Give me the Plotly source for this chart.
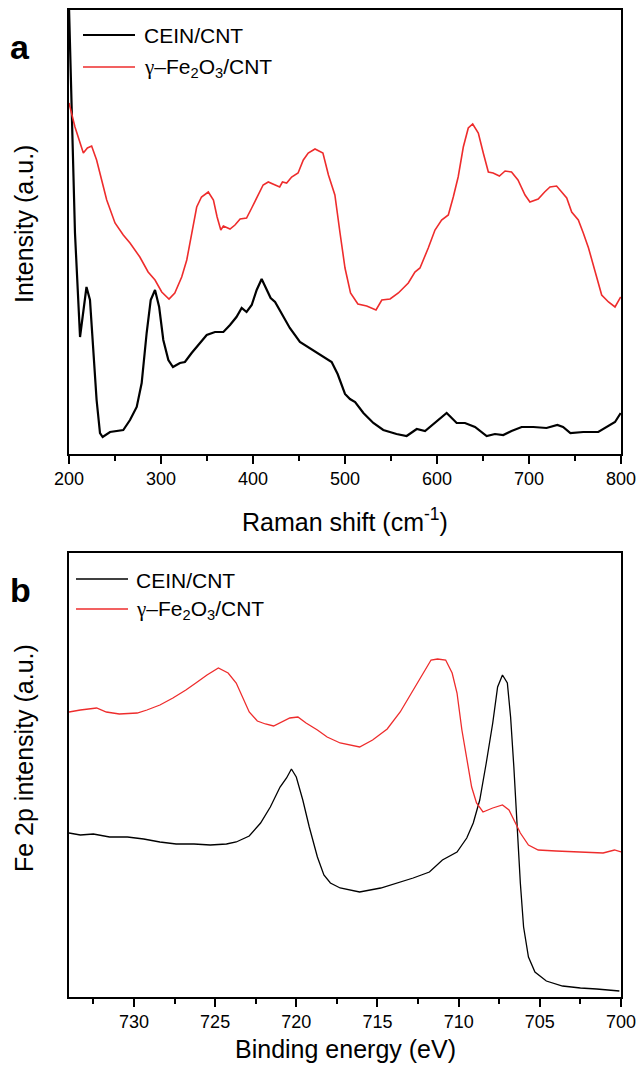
import plotly.graph_objects as go

# ---------------- Data ----------------
# Panel a: Raman spectra
raman_cein_x = [200, 203, 206.5, 212, 215.6, 219, 222.8, 226.4, 230, 233.7, 236.6, 244.6, 251.8, 259,
                266.3, 273.6, 279, 284.4, 288.8, 293.5, 298, 302.5, 308, 313, 320.6, 326, 333.3, 340.6,
                349.7, 358.7, 367.8, 375, 382, 387.7, 393, 398.6, 404, 409.4, 415, 419.2, 424, 431, 440,
                451, 460, 469, 478, 485.5, 492, 500, 505.4, 511, 520, 530.8, 541.6, 556, 567, 578, 587,
                597.8, 610.5, 621.4, 630.4, 641.3, 654, 663, 672, 681, 692, 704.7, 719, 730.8, 737, 745,
                759, 775.3, 784.5, 793.5, 799.7]
raman_cein_y = [447, 354, 221, 117, 141, 167, 154, 104, 54, 21, 17, 22, 23, 24,
                34, 47, 71, 121, 154, 164, 147, 114, 94, 87, 91, 92, 101, 109,
                119, 122, 122, 129, 137, 146, 142, 149, 164, 175, 164, 156, 152, 141, 126,
                112, 107, 102, 97, 92, 80, 60, 55, 52, 41, 31, 24, 20, 18, 25, 23,
                31, 41, 31, 31, 27, 18, 20, 19, 23, 27, 27, 26, 29, 27, 21,
                22, 22, 27, 32, 41]

raman_fe_x = [200, 206.5, 215.6, 220, 224.6, 230, 235.5, 241, 250, 259, 266.3, 277, 286, 293.5, 300.8,
              308.7, 315, 322.5, 328, 333.3, 338.8, 344, 351.4, 357, 361, 365, 367.8, 375, 380.4, 386,
              393, 398.6, 405.8, 411, 416.6, 424, 429, 432, 436.6, 442, 449, 454.7, 460, 467.4, 476,
              482, 489, 494.6, 500, 506, 514, 523.6, 533.7, 540, 549, 558, 568.8, 576, 581.5, 590.5,
              597.8, 605, 612.3, 617.7, 623, 628.6, 634, 638.8, 644.9, 650.3, 655.8, 661, 667.8, 674,
              681, 688, 695.7, 701, 710, 717, 722.8, 730, 735.5, 741, 746.4, 753.6, 759, 764.7, 772,
              779, 786.4, 793.5, 799.7]
raman_fe_y = [351, 327, 301, 306, 308, 294, 274, 254, 231, 219, 211, 197, 182, 174, 162,
              155, 161, 177, 194, 221, 247, 257, 262, 254, 237, 224, 228, 225, 229, 235,
              236, 246, 259, 269, 272, 269, 267, 272, 271, 277, 281, 294, 301, 305, 301,
              279, 259, 221, 186, 161, 150, 148, 144, 154, 155, 161, 171, 182, 186, 206,
              224, 234, 239, 257, 277, 307, 326, 330, 321, 301, 282, 281, 278, 283,
              282, 274, 259, 252, 255, 262, 267, 268, 262, 256, 242, 234, 221, 206, 182,
              159, 152, 147, 157]

# Panel b: Fe 2p XPS spectra
xps_cein_x = [734, 733.3, 732.5, 731.5, 730.4, 729.4, 728.4, 727.4, 726.3, 725.3, 724.3, 723.7, 722.9,
              722.2, 721.6, 721, 720.6, 720.3, 720, 719.6, 719.2, 718.7, 718.3, 717.9, 717.3, 716.7,
              716.1, 714.8, 713.8, 712.8, 711.8, 711, 710.1, 709.5, 709.1, 708.7, 708.3, 707.9, 707.6,
              707.3, 707, 706.8, 706.6, 706.4, 706.2, 706, 705.7, 705.3, 704.6, 703.6, 702.5, 701.5, 700.1]
xps_cein_y = [164, 162, 163, 160, 160, 158, 155, 153, 153, 152, 153, 155, 161,
              174, 190, 210, 219, 228, 220, 197, 170, 140, 122, 114, 109, 107,
              105, 109, 114, 119, 125, 137, 145, 159, 174, 197, 234, 274, 310,
              322, 314, 280, 230, 170, 114, 70, 40, 25, 16, 11, 9, 8, 6]

xps_fe_x = [734, 733.3, 732.3, 731.7, 730.9, 729.8, 729.2, 728.4, 727.6, 726.8, 726.1, 725.5, 724.8,
            724.2, 723.7, 723.3, 722.9, 722.4, 721.9, 721.4, 720.9, 720.4, 719.9, 719.4, 718.7, 718.1,
            717.3, 716.7, 716.1, 715.3, 714.4, 713.6, 712.8, 712.2, 711.7, 711.3, 710.8, 710.4, 710.1,
            709.8, 709.5, 709.2, 708.9, 708.5, 707.9, 707.3, 706.9, 706.6, 706.2, 705.7, 705.1, 704,
            702.5, 701.1, 700.4, 700]
xps_fe_y = [285, 287, 289, 285, 283, 284, 287, 292, 299, 307, 315, 322, 329,
            324, 314, 300, 285, 276, 273, 271, 275, 279, 280, 274, 267, 260,
            254, 252, 250, 257, 268, 285, 307, 324, 337, 338, 337, 324, 304,
            267, 237, 210, 194, 185, 189, 192, 187, 177, 164, 152, 147, 146,
            145, 144, 147, 145]

series_names = ["CEIN/CNT",
                "<span style=\"font-family:'Liberation Serif','Times New Roman',serif\">γ</span>"
                "–Fe<sub>2</sub>O<sub>3</sub>/CNT"]
raman_ticks = [200, 300, 400, 500, 600, 700, 800]
xps_ticks = [730, 725, 720, 715, 710, 705, 700]

# ---------------- Figure ----------------
W, H = 638, 1068
BLACK = "#000000"
RED = "#EE2C2C"
FONT = "Arial, Liberation Sans, sans-serif"


def px(v):
    return v / W


def py(v):
    return 1 - v / H


fig = go.Figure()
fig.add_trace(go.Scatter(x=raman_cein_x, y=raman_cein_y, mode="lines", name="CEIN/CNT",
                         line=dict(color=BLACK, width=2.2), xaxis="x", yaxis="y", showlegend=False))
fig.add_trace(go.Scatter(x=raman_fe_x, y=raman_fe_y, mode="lines", name="γ–Fe2O3/CNT",
                         line=dict(color=RED, width=1.6), xaxis="x", yaxis="y", showlegend=False))
fig.add_trace(go.Scatter(x=xps_cein_x, y=xps_cein_y, mode="lines", name="CEIN/CNT",
                         line=dict(color=BLACK, width=1.3), xaxis="x2", yaxis="y2", showlegend=False))
fig.add_trace(go.Scatter(x=xps_fe_x, y=xps_fe_y, mode="lines", name="γ–Fe2O3/CNT",
                         line=dict(color=RED, width=1.3), xaxis="x2", yaxis="y2", showlegend=False))

xdom = [px(69), px(621)]
axis_common = dict(showline=True, linecolor=BLACK, linewidth=1.6, mirror=True,
                   showgrid=False, zeroline=False, automargin=False)

fig.update_layout(
    width=W, height=H,
    margin=dict(l=0, r=0, t=0, b=0, autoexpand=False),
    paper_bgcolor="white", plot_bgcolor="white",
    font=dict(family=FONT, color=BLACK),
    xaxis=dict(domain=xdom, anchor="y", range=[200, 800], tickvals=raman_ticks,
               ticks="outside", ticklen=8, tickwidth=1.5, tickcolor=BLACK,
               tickfont=dict(size=18),
               minor=dict(dtick=50, tick0=200, ticks="outside", ticklen=5, tickwidth=1.5, tickcolor=BLACK),
               **axis_common),
    yaxis=dict(domain=[py(454), py(10)], anchor="x", range=[0, 444],
               showticklabels=False, ticks="", **axis_common),
    xaxis2=dict(domain=xdom, anchor="y2", range=[734, 700], tickvals=xps_ticks,
                ticks="outside", ticklen=8, tickwidth=1.5, tickcolor=BLACK,
                tickfont=dict(size=18),
                minor=dict(dtick=2.5, tick0=700, ticks="outside", ticklen=5, tickwidth=1.5, tickcolor=BLACK),
                **axis_common),
    yaxis2=dict(domain=[py(997), py(553)], anchor="x2", range=[0, 444],
                showticklabels=False, ticks="", **axis_common),
)

# Axis titles (placed as annotations for exact positions)
titles = [
    (345, 520, 0, "Raman shift (cm<sup>-1</sup>)"),
    (24, 224, -90, "Intensity (a.u.)"),
    (345, 1049, 0, "Binding energy (eV)"),
    (24, 758, -90, "Fe 2p intensity (a.u.)"),
]
for tx, ty, ang, txt in titles:
    fig.add_annotation(x=px(tx), y=py(ty), xref="paper", yref="paper", text=txt, showarrow=False,
                       textangle=ang, xanchor="center", yanchor="middle",
                       font=dict(size=25, family=FONT, color=BLACK))

# Panel letters
fig.add_annotation(x=px(8), y=py(47), xref="paper", yref="paper", text="<b>a</b>", showarrow=False,
                   xanchor="left", yanchor="middle", font=dict(size=34, family=FONT, color=BLACK))
fig.add_annotation(x=px(8), y=py(590), xref="paper", yref="paper", text="<b>b</b>", showarrow=False,
                   xanchor="left", yanchor="middle", font=dict(size=34, family=FONT, color=BLACK))

# Legends (drawn as line samples + text)
legends = [
    # (x0, x1, text_x, y, color, width, name)
    (83, 135, 142, 35, BLACK, 2.2, series_names[0]),
    (83, 135, 142, 67, RED, 1.6, series_names[1]),
    (76, 128, 134, 579, BLACK, 1.3, series_names[0]),
    (76, 128, 134, 609, RED, 1.3, series_names[1]),
]
for x0, x1, tx, yy, col, lw, name in legends:
    fig.add_shape(type="line", xref="paper", yref="paper", x0=px(x0), x1=px(x1), y0=py(yy), y1=py(yy),
                  line=dict(color=col, width=lw))
    fig.add_annotation(x=px(tx), y=py(yy + 1), xref="paper", yref="paper", text=name, showarrow=False,
                       xanchor="left", yanchor="middle", font=dict(size=21, family=FONT, color=BLACK))

# Remove the default page margin so the figure sits at the window's top-left corner.
fig.write_html("out.html",
               config={"displayModeBar": False},
               post_script="document.body.style.margin='0';document.body.style.overflow='hidden';")
